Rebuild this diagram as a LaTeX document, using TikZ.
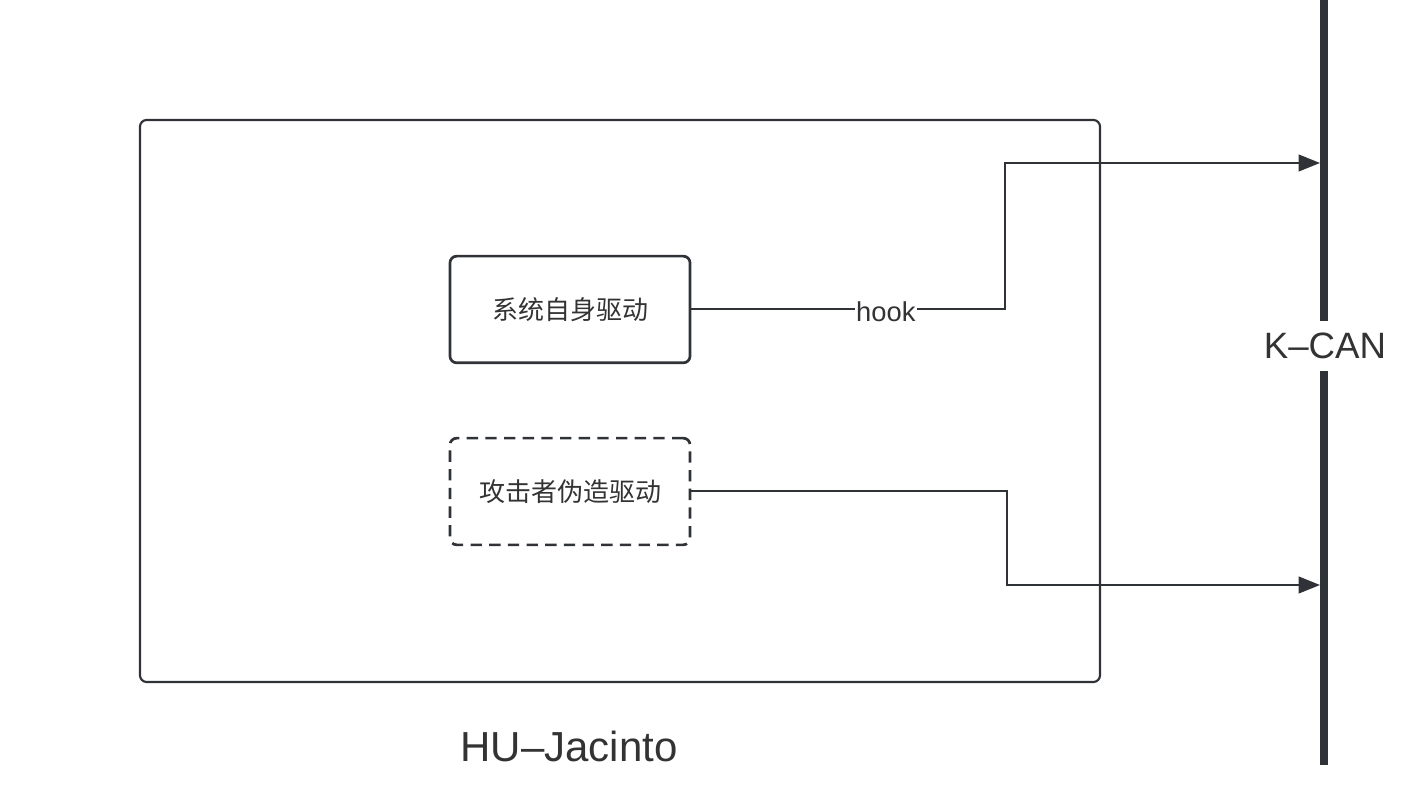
\documentclass[tikz,border=0pt]{standalone}
\usepackage{fontspec}
\setmainfont{Liberation Sans}
\newfontfamily\cjk{Noto Sans CJK SC}
\usetikzlibrary{arrows.meta}
\definecolor{ink}{HTML}{2F3236}
\definecolor{txt}{HTML}{333333}
\tikzset{
  box/.style={draw=ink, line width=2pt, rounded corners=5pt, minimum width=180pt, minimum height=80pt, inner sep=0pt, text=txt},
  outerbox/.style={draw=ink, line width=1.6pt, rounded corners=5pt},
  dashbox/.style={box, dash pattern=on 8.5pt off 5.5pt},
  conn/.style={draw=ink, line width=1.5pt, -{Triangle[length=16pt,width=12.5pt]}},
  bus/.style={draw=ink, line width=6pt},
  lbl/.style={text=txt, inner sep=0pt}
}
\begin{document}
\begin{tikzpicture}[x=0.75pt,y=-0.75pt]
\useasboundingbox (0,0) rectangle (1424,812);
% outer HU box
\node[outerbox, minimum width=720pt, minimum height=421.5pt, inner sep=0pt] (hu) at (620,401) {};
\node[lbl, font=\fontsize{31.5pt}{36pt}\selectfont] (hulabel) at (569,746) {HU–Jacinto};
% inner boxes
\node[box, font=\cjk\fontsize{19.5pt}{22pt}\selectfont] (sys) at (570,309.5) {\raisebox{-1pt}{系统自身驱动}};
\node[dashbox, font=\cjk\fontsize{19.5pt}{22pt}\selectfont] (att) at (570,491.5) {\raisebox{-1pt}{攻击者伪造驱动}};
% K-CAN bus
\coordinate (bustop) at (1324,0);
\coordinate (busbot) at (1324,765);
\node[lbl, font=\fontsize{27.5pt}{32pt}\selectfont, minimum height=37.5pt] (kcan) at (1325,346) {K–CAN};
\draw[bus] (bustop) -- (kcan.north -| bustop);
\draw[bus] (kcan.south -| busbot) -- (busbot);
% connectors
\coordinate (bendA) at (1005,163);
\coordinate (hitA) at (1320,163);
\coordinate (bendB) at (1007,585);
\coordinate (hitB) at (1320,585);
\draw[conn] (sys.east) -| node[pos=0.31, fill=white, lbl, inner xsep=1pt, font=\fontsize{20.5pt}{24pt}\selectfont, yshift=-2pt] (hook) {hook} (bendA) -- (hitA);
\draw[conn] (att.east) -| (bendB) -- (hitB);
\end{tikzpicture}
\end{document}
